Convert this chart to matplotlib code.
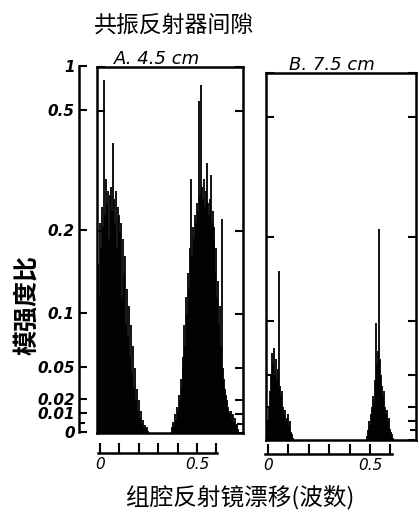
'''
Mode intensity ratio vs. mirror drift, two resonant reflector spacings
'''
import numpy as np
import matplotlib.pyplot as plt

plt.rcParams['font.family'] = ['Noto Sans CJK SC', 'DejaVu Sans']

# y axis: labelled ticks and their height (px above zero)
y_tick_vals = [0, 0.01, 0.02, 0.05, 0.1, 0.2, 0.5, 1]
y_tick_pos = [0, 19, 33, 65, 119, 202, 322, 366]
y_tick_labels = ['0', '0.01', '0.02', '0.05', '0.1', '0.2', '0.5', '1']

x_ticks = [0, 0.1, 0.2, 0.3, 0.4, 0.5, 0.6]
x_tick_labels = ['0', '', '', '', '', '0.5', '']

# panel A (4.5 cm): spikes every 0.005 wave number
a1_x0 = -0.045
a1_h = [0.10, 0.16, 0.12, 0.22, 0.18, 0.26, 0.21, 0.85, 0.24, 0.33,
        0.27, 0.30, 0.19, 0.29, 0.31, 0.25, 0.42, 0.28, 0.22, 0.30,
        0.18, 0.26, 0.14, 0.24, 0.20, 0.22, 0.12, 0.19, 0.15, 0.17,
        0.09, 0.13, 0.08, 0.11, 0.06, 0.09, 0.045, 0.07, 0.03, 0.05,
        0.02, 0.03, 0.012, 0.02, 0.008, 0.012, 0.005, 0.007, 0.003, 0.004,
        0.002, 0.003, 0.001]
a2_x0 = 0.34
a2_h = [0.003, 0.006, 0.004, 0.01, 0.007, 0.015, 0.012, 0.025, 0.02, 0.04,
        0.03, 0.06, 0.05, 0.09, 0.07, 0.12, 0.10, 0.15, 0.13, 0.18,
        0.33, 0.17, 0.21, 0.19, 0.24, 0.22, 0.27, 0.25, 0.61, 0.29,
        0.80, 0.31, 0.28, 0.33, 0.26, 0.30, 0.37, 0.27, 0.24, 0.28,
        0.34, 0.22, 0.25, 0.19, 0.21, 0.15, 0.18, 0.12, 0.14, 0.09,
        0.11, 0.07, 0.23, 0.05, 0.04, 0.03, 0.025, 0.02, 0.015, 0.012,
        0.01, 0.012, 0.008, 0.01, 0.006, 0.008, 0.004, 0.005, 0.002]

# panel B (7.5 cm)
b1_x0 = -0.05
b1_h = [0.004, 0.01, 0.02, 0.035, 0.05, 0.07, 0.06, 0.075, 0.05, 0.065,
        0.045, 0.055, 0.16, 0.04, 0.03, 0.035, 0.02, 0.015, 0.018, 0.01,
        0.012, 0.015, 0.008, 0.01, 0.004, 0.003, 0.001]
b2_x0 = 0.44
b2_h = [0.002, 0.005, 0.01, 0.008, 0.015, 0.02, 0.03, 0.025, 0.045, 0.098,
        0.06, 0.072, 0.22, 0.065, 0.05, 0.04, 0.03, 0.035, 0.02, 0.015,
        0.018, 0.01, 0.012, 0.006, 0.004, 0.003, 0.001]
step = 0.005

W, H = 419, 525


def box(left, top, right, bottom):
    return [left / W, 1 - bottom / H, (right - left) / W, (bottom - top) / H]


def fwd(v):
    return np.interp(v, y_tick_vals, y_tick_pos)


def inv(p):
    return np.interp(p, y_tick_pos, y_tick_vals)


def spikes(ax, x0, heights):
    xs = x0 + step * np.arange(len(heights))
    ax.vlines(xs, 0, heights, color='black', lw=1.3)


fig = plt.figure(figsize=(W / 100, H / 100), dpi=100)

# stand-alone labelled y axis
ay = fig.add_axes(box(79, 66, 80, 432))
ay.set_yscale('function', functions=(fwd, inv))
ay.set_ylim(0, 1)
for s in ['top', 'right', 'bottom']:
    ay.spines[s].set_visible(False)
ay.spines['left'].set_linewidth(1.8)
ay.set_xticks([])
ay.set_yticks(y_tick_vals)
ay.set_yticklabels(y_tick_labels, fontsize=11, style='italic',
                   fontweight='bold', family='DejaVu Sans')
ay.set_yticks([0.005], minor=True)
ay.tick_params(axis='y', which='both', direction='in', length=6, width=1.5, pad=3)
ay.tick_params(axis='y', which='minor', length=4)


def panel(rect, xlim, parts):
    ax = fig.add_axes(rect)
    ax.set_yscale('function', functions=(fwd, inv))
    ax.set_ylim(0, 1)
    ax.set_xlim(*xlim)
    for x0, h in parts:
        spikes(ax, x0, h)
    for s in ax.spines.values():
        s.set_linewidth(1.8)
    ax.set_xticks([])
    ax.set_yticks(y_tick_vals)
    ax.set_yticklabels([])
    ax.set_yticks([0.005], minor=True)
    ax.tick_params(axis='y', which='both', direction='in', length=6, width=1.5,
                   left=True, right=True)
    ax.tick_params(axis='y', which='minor', length=4)
    return ax


panel(box(97, 67, 243, 433), (-0.046, 0.707), [(a1_x0, a1_h), (a2_x0, a2_h)])
panel(box(266, 73, 416, 440), (-0.054, 0.681), [(b1_x0, b1_h), (b2_x0, b2_h)])


def ruler(rect, xlim):
    ax = fig.add_axes(rect)
    ax.set_xlim(*xlim)
    for s in ['top', 'right', 'left']:
        ax.spines[s].set_visible(False)
    ax.spines['bottom'].set_linewidth(1.8)
    ax.set_yticks([])
    ax.set_xticks(x_ticks)
    ax.set_xticklabels(x_tick_labels, fontsize=11, style='italic',
                       family='DejaVu Sans')
    ax.tick_params(axis='x', direction='in', length=7, width=1.5, pad=3)
    ax.patch.set_alpha(0)


ruler(box(98, 446, 217, 453), (-0.01, 0.603))
ruler(box(265, 447, 392, 454), (-0.015, 0.608))

fig.text(174 / W, 1 - 25 / H, '共振反射器间隙', ha='center', va='center',
         fontsize=16.5, fontweight='medium')
fig.text(157 / W, 1 - 59 / H, 'A. 4.5 cm', ha='center', va='center', fontsize=13,
         style='italic', family='DejaVu Sans')
fig.text(332 / W, 1 - 65 / H, 'B. 7.5 cm', ha='center', va='center', fontsize=13,
         style='italic', family='DejaVu Sans')
fig.text(28 / W, 1 - 305 / H, '模强度比', ha='center', va='center', fontsize=18,
         fontweight='bold', rotation=90)
fig.text(240 / W, 1 - 497 / H, '组腔反射镜漂移(波数)', ha='center', va='center',
         fontsize=17, fontweight='medium')

fig.savefig('out.png', dpi=100)
